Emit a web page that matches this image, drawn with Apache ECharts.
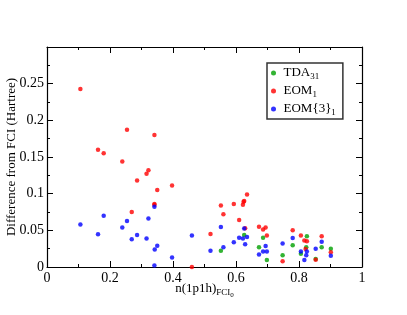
<!DOCTYPE html>
<html><head><meta charset="utf-8">
<script src="https://cdn.jsdelivr.net/npm/echarts@6/dist/echarts.min.js"></script>
<style>html,body{margin:0;padding:0;background:#fff}#c{width:407px;height:315px}</style>
</head><body><div id="c"></div>
<script>
const xTicks = [0, 0.2, 0.4, 0.6, 0.8, 1];
const yTicks = [0, 0.05, 0.1, 0.15, 0.2, 0.25];

const tdaX = [0.552,0.626,0.673,0.686,0.698,0.748,0.780,0.806,0.823,0.825,0.853,0.872,0.901];
const tdaY = [0.022,0.0435,0.027,0.040,0.0095,0.016,0.0295,0.018,0.027,0.042,0.011,0.027,0.025];

const eomX = [0.106,0.162,0.180,0.239,0.254,0.341,0.286,0.316,0.322,0.350,0.397,0.341,0.341,0.269,0.460,0.519,0.552,0.560,0.593,0.622,0.624,0.626,0.635,0.610,0.629,0.673,0.686,0.694,0.698,0.748,0.780,0.806,0.817,0.825,0.821,0.853,0.872,0.901];
const eomY = [0.2427,0.160,0.155,0.144,0.187,0.180,0.118,0.127,0.132,0.105,0.111,0.086,0.085,0.075,0.0,0.045,0.084,0.072,0.086,0.085,0.089,0.090,0.099,0.064,0.053,0.055,0.051,0.054,0.043,0.008,0.050,0.043,0.036,0.035,0.0245,0.010,0.042,0.020];

const eom3X = [0.106,0.162,0.180,0.239,0.254,0.269,0.286,0.316,0.322,0.341,0.342,0.341,0.350,0.397,0.460,0.519,0.552,0.560,0.593,0.610,0.622,0.626,0.629,0.635,0.673,0.686,0.694,0.698,0.748,0.780,0.806,0.817,0.823,0.825,0.853,0.872,0.901];
const eom3Y = [0.058,0.0445,0.070,0.054,0.0626,0.038,0.0436,0.039,0.066,0.082,0.024,0.002,0.029,0.013,0.043,0.022,0.0545,0.027,0.0336,0.040,0.039,0.0526,0.031,0.041,0.017,0.021,0.0286,0.021,0.032,0.0395,0.021,0.0095,0.016,0.021,0.025,0.0345,0.0155];

const names = ['TDA31','EOM1','EOM{3}1'];
const legendRich = {'TDA31':'{m|TDA}{s|31}','EOM1':'{m|EOM}{s|1}','EOM{3}1':'{m|EOM{3}}{s|1}'};

function pairs(xs, ys){ return xs.map((x,i)=>[x, ys[i]]); }

const font = '"Liberation Serif", "Times New Roman", serif';
const chart = echarts.init(document.getElementById('c'), null, {renderer:'canvas'});
const axisCommon = {
  axisLine:{show:true, onZero:false, lineStyle:{color:'#000', width:1.2}},
  splitLine:{show:false},
};
chart.setOption({
  animation:false,
  backgroundColor:'#fff',
  textStyle:{fontFamily:font},
  grid:{left:47, right:45, top:47, bottom:48, containLabel:false, outerBoundsMode:'none'},
  legend:{
    show:true, orient:'vertical', left:267, top:63,
    data: names, icon:'circle', itemWidth:10, itemHeight:5, itemGap:2,
    padding:[2,7,2,4],
    borderColor:'#333', borderWidth:1.5, backgroundColor:'#fff',
    formatter: n => legendRich[n],
    textStyle:{fontFamily:font, fontSize:13, color:'#000', rich:{
      m:{fontSize:13, fontFamily:font, color:'#000', lineHeight:15},
      s:{fontSize:9, fontFamily:font, color:'#000', padding:[7,0,0,0], lineHeight:15}
    }}
  },
  xAxis:[{
    type:'value', min:xTicks[0], max:xTicks[xTicks.length-1], interval:0.2, position:'bottom',
    ...axisCommon,
    axisTick:{show:true, inside:true, length:6, lineStyle:{color:'#000'}},
    minorTick:{show:true, splitNumber:2, length:3, lineStyle:{color:'#000'}},
    axisLabel:{show:true, margin:4, fontSize:14, fontFamily:font, color:'#000',
      formatter: v => { const t = xTicks.find(a=>Math.abs(a-v)<1e-9); return t===undefined?'':String(t); }},
    name:'{a|n(1p1h)}{b|FCI}{c|0}', nameLocation:'middle', nameGap:11, nameMoveOverlap:false,
    nameTextStyle:{rich:{
      a:{fontSize:13, fontFamily:font, color:'#000'},
      b:{fontSize:9, fontFamily:font, color:'#000', padding:[8,0,0,0]},
      c:{fontSize:7, fontFamily:font, color:'#000', padding:[14,0,0,0]}
    }}
  },{
    type:'value', min:0, max:1, interval:0.2, position:'top',
    ...axisCommon,
    axisTick:{show:true, inside:true, length:6, lineStyle:{color:'#000'}},
    minorTick:{show:true, splitNumber:2, length:3, lineStyle:{color:'#000'}},
    axisLabel:{show:false}
  }],
  yAxis:[{
    type:'value', min:0, max:0.3, interval:0.05, position:'left',
    ...axisCommon,
    axisTick:{show:true, inside:true, length:6, lineStyle:{color:'#000'}},
    minorTick:{show:true, splitNumber:2, length:3, lineStyle:{color:'#000'}},
    axisLabel:{show:true, margin:3, fontSize:14, fontFamily:font, color:'#000',
      formatter: v => { const t = yTicks.find(a=>Math.abs(a-v)<1e-9); return t===undefined?'':String(t); }},
    name:'Difference from FCI (Hartree)', nameLocation:'middle', nameGap:29, nameMoveOverlap:false,
    nameTextStyle:{fontSize:13, fontFamily:font, color:'#000'}
  },{
    type:'value', min:0, max:0.3, interval:0.05, position:'right',
    ...axisCommon,
    axisTick:{show:true, inside:true, length:6, lineStyle:{color:'#000'}},
    minorTick:{show:true, splitNumber:2, length:3, lineStyle:{color:'#000'}},
    axisLabel:{show:false}
  }],
  series:[
    {name:names[0], type:'scatter', data:pairs(tdaX,tdaY), symbol:'circle', symbolSize:4.5, itemStyle:{color:'#00a000'}},
    {name:names[1], type:'scatter', data:pairs(eomX,eomY), symbol:'circle', symbolSize:4.5, itemStyle:{color:'#ff0000'}},
    {name:names[2], type:'scatter', data:pairs(eom3X,eom3Y), symbol:'circle', symbolSize:4.5, itemStyle:{color:'#0000ff'}}
  ]
});
</script></body></html>
